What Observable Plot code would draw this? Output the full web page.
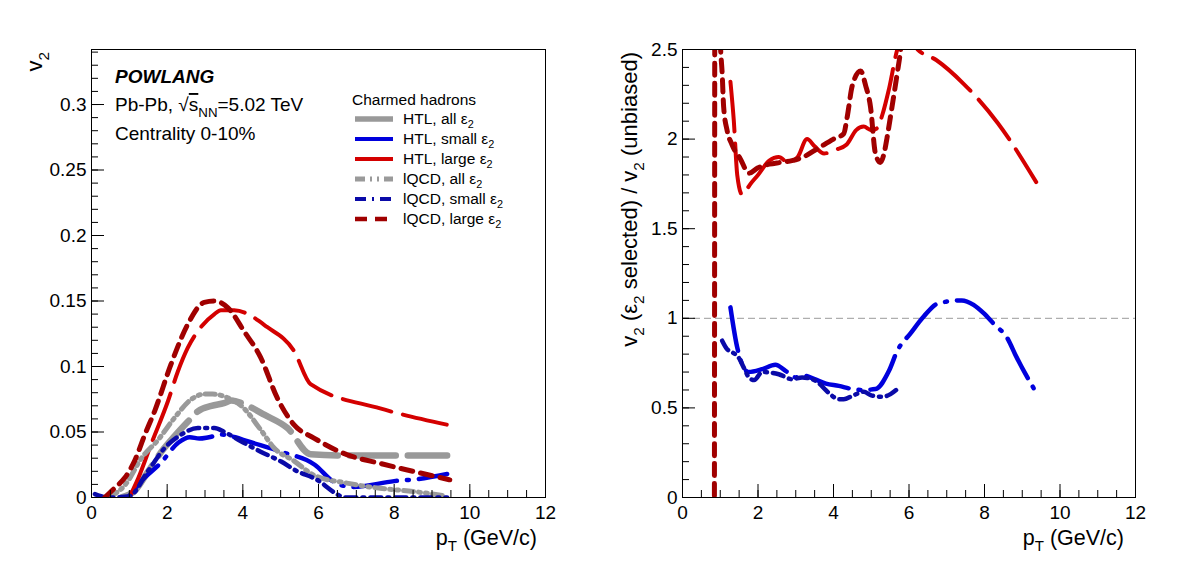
<!DOCTYPE html>
<html><head><meta charset="utf-8">
<script src="https://cdn.jsdelivr.net/npm/d3@7"></script>
<script src="https://cdn.jsdelivr.net/npm/@observablehq/plot@0.6"></script>
<style>
body{margin:0;background:#fff;}
#wrap{position:relative;width:1182px;height:571px;display:flex;}
#wrap svg{display:block;flex:none;}
</style></head><body><div id="wrap"></div>
<script>
const FONT = "'Liberation Sans', Arial, Helvetica, sans-serif";

// ---- axis ticks ----
const xMajor = [0, 2, 4, 6, 8, 10, 12];
const xMinor = d3.range(0, 12.01, 0.5);
const leftYMajor = [0, 0.05, 0.1, 0.15, 0.2, 0.25, 0.3];
const leftYMinor = d3.range(0, 0.3405, 0.01);
const rightYMajor = [0, 0.5, 1, 1.5, 2, 2.5];
const rightYMinor = d3.range(0, 2.501, 0.1);

// ---- left panel: v2 vs pT ----
const htlAll = [[0.79,0],[1.14,0.005],[1.5,0.02],[1.85,0.035],[2.2,0.047],[2.55,0.058],[2.82,0.066],[3.17,0.07],[3.5,0.072],[3.7,0.074],[4.05,0.071],[4.58,0.063],[5.18,0.053],[5.79,0.033],[6.75,0.032],[9.4,0.032]];
const htlSmall = [[0.97,0],[1.3,0.012],[1.85,0.027],[2.3,0.042],[2.6,0.046],[2.85,0.045],[3.1,0.046],[3.45,0.048],[3.8,0.046],[4.12,0.043],[5.0,0.035],[5.9,0.025],[6.4,0.012],[6.9,0.008],[8.0,0.0125],[8.6,0.014],[9.4,0.018]];
const htlLarge = [[1.0,0],[1.24,0.015],[1.58,0.041],[2.02,0.0735],[2.28,0.096],[2.54,0.114],[2.89,0.13],[3.25,0.14],[3.42,0.143],[3.77,0.143],[4.65,0.13],[5.35,0.112],[5.79,0.0865],[7.63,0.068],[9.39,0.0556]];
const iqcdAll = [[0.44,0],[0.9,0.01],[1.32,0.03],[1.76,0.044],[2.2,0.061],[2.64,0.075],[3.0,0.079],[3.2,0.079],[3.52,0.077],[3.96,0.07],[4.49,0.051],[4.82,0.038],[5.35,0.028],[5.88,0.017],[6.75,0.011],[7.63,0.007],[8.5,0.0046],[9.4,0.001]];
const iqcdSmall = [[0.09,0.0026],[0.44,0],[1.0,0.001],[1.49,0.02],[1.93,0.0377],[2.37,0.048],[2.81,0.053],[3.25,0.053],[3.51,0.05],[3.95,0.043],[4.47,0.035],[5.0,0.0276],[5.44,0.02],[5.88,0.0148],[6.75,0],[9.4,0]];
const iqcdLarge = [[0.35,0],[0.62,0.0075],[0.88,0.015],[1.14,0.028],[1.41,0.048],[1.67,0.066],[2.1,0.1016],[2.54,0.132],[2.98,0.149],[3.25,0.15],[3.6,0.145],[4.03,0.127],[4.47,0.107],[4.91,0.076],[5.35,0.0556],[5.88,0.0454],[6.75,0.0327],[7.63,0.026],[8.5,0.02],[9.47,0.0135]];

// ---- right panel: ratio v2(selected)/v2(unbiased) ----
const ratioHtlSmall = [[1.27,1.061],[1.45,0.837],[1.75,0.70],[2.11,0.716],[2.46,0.741],[2.73,0.707],[2.99,0.67],[3.21,0.68],[3.5,0.66],[3.8,0.635],[4.14,0.623],[4.5,0.605],[4.76,0.6],[5.11,0.605],[5.47,0.707],[5.69,0.819],[6.04,0.916],[6.39,1.01],[6.78,1.084],[7.4,1.1],[7.71,1.075],[7.97,1.03],[8.24,0.97],[8.63,0.88],[8.81,0.80],[9.3,0.61]];
const ratioIqcdSmall = [[1.05,0.875],[1.18,0.828],[1.32,0.81],[1.49,0.78],[1.62,0.726],[1.76,0.67],[1.9,0.655],[2.11,0.7],[2.55,0.688],[2.9,0.66],[3.17,0.67],[3.43,0.66],[3.6,0.64],[3.79,0.6],[3.92,0.575],[4.14,0.548],[4.27,0.548],[4.5,0.567],[4.8,0.59],[5.0,0.57],[5.29,0.562],[5.51,0.577],[5.69,0.605]];
const ratioHtlLarge = [[1.27,2.32],[1.36,2.1],[1.45,1.8],[1.58,1.69],[1.8,1.75],[2.0,1.8],[2.3,1.88],[2.55,1.9],[2.8,1.87],[3.05,1.9],[3.3,2.0],[3.5,1.96],[3.75,1.92],[4.05,1.94],[4.35,1.97],[4.6,2.05],[4.8,2.07],[5.0,2.05],[5.15,2.06],[5.3,2.14],[5.47,2.28],[5.69,2.5],[5.85,2.58],[6.0,2.56],[6.23,2.5],[6.73,2.44],[7.44,2.31],[8.35,2.09],[9.37,1.76]];
const ratioIqcdLarge = [[0.845,-0.1],[0.85,1.2],[0.855,2.6],[0.95,2.9],[1.01,2.5],[1.05,2.37],[1.09,2.18],[1.18,2.05],[1.31,1.97],[1.53,1.89],[1.76,1.81],[2.0,1.84],[2.3,1.86],[2.6,1.87],[2.9,1.88],[3.2,1.9],[3.6,1.95],[4.0,2.0],[4.27,2.03],[4.36,2.12],[4.5,2.3],[4.72,2.38],[4.85,2.3],[4.98,2.18],[5.11,1.92],[5.24,1.87],[5.35,1.93],[5.42,2.01],[5.55,2.18],[5.69,2.37],[5.78,2.5],[5.85,2.65]];
const unbiasedLevel = [1];

// ---- legend ----
const legendLabels = ["HTL, all ε", "HTL, small ε", "HTL, large ε", "lQCD, all ε", "lQCD, small ε", "lQCD, large ε"];

const styles = {
  htlAll:    {color: "#999999", width: 6.5, dash: "46,12",          lw: 5.5},
  htlSmall:  {color: "#0000dd", width: 4.5, dash: "44,10,2,10",     lw: 4},
  htlLarge:  {color: "#d40000", width: 4,   dash: "50,12",          lw: 4},
  iqcdAll:   {color: "#9a9a9a", width: 5,   dash: "10,5,2,5,2,5",   lw: 5},
  iqcdSmall: {color: "#0a0aa8", width: 4.5, dash: "11,6,2,6",       lw: 4},
  iqcdLarge: {color: "#a00000", width: 5,   dash: "12,8",           lw: 4.5}
};
const styleOrder = ["htlAll","htlSmall","htlLarge","iqcdAll","iqcdSmall","iqcdLarge"];

function line(data, s) {
  return Plot.line(data, {stroke: s.color, strokeWidth: s.width, strokeDasharray: s.dash,
    curve: "monotone-x", clip: true, strokeLinejoin: "round"});
}

function panel({yDomain, yMajor, yMinor, marks, marginLeft, marginRight}) {
  const W = 591, H = 571, mt = 49, mb = 74;
  const fw = W - marginLeft - marginRight, fh = H - mt - mb;
  return Plot.plot({
    width: W, height: H, marginLeft, marginRight, marginTop: mt, marginBottom: mb,
    style: {fontFamily: FONT, fontSize: "19px", background: "white", color: "black", overflow: "visible"},
    x: {domain: [0, 12]},
    y: {domain: yDomain},
    marks: [
      ...marks,
      Plot.ruleX(xMinor, {insetTop: fh - 7, stroke: "black"}),
      Plot.ruleX(xMajor, {insetTop: fh - 13, stroke: "black"}),
      Plot.ruleY(yMinor, {insetRight: fw - 7, stroke: "black"}),
      Plot.ruleY(yMajor, {insetRight: fw - 13, stroke: "black"}),
      Plot.axisX(xMajor, {tickSize: 0, tickPadding: 8, fontSize: 19, label: null, tickFormat: d => String(d)}),
      Plot.axisY(yMajor, {tickSize: 0, tickPadding: 5, fontSize: 19, label: null, tickFormat: d => String(+d.toFixed(2))}),
      Plot.frame({stroke: "black", strokeWidth: 1})
    ]
  });
}

function rich(g, x, y, segs, {size = 19, anchor = "start", rotate = 0, weight = null, italic = false} = {}) {
  const t = g.append("text").attr("x", x).attr("y", y)
    .attr("font-size", size).attr("text-anchor", anchor)
    .attr("font-family", FONT).attr("fill", "black");
  if (weight) t.attr("font-weight", weight);
  if (italic) t.attr("font-style", "italic");
  if (rotate) t.attr("transform", `rotate(${rotate},${x},${y})`);
  let shift = 0;
  for (const s of segs) {
    const target = s.sub ? size * 0.3 : 0;
    const ts = t.append("tspan").text(s.t).attr("dy", target - shift);
    if (s.sub) ts.attr("font-size", size * 0.7);
    if (s.over) ts.style("text-decoration", "overline");
    shift = target;
  }
  return t;
}

const wrap = d3.select("#wrap");

const left = panel({
  yDomain: [0, 0.342], yMajor: leftYMajor, yMinor: leftYMinor, marginLeft: 91, marginRight: 46,
  marks: [line(htlAll, styles.htlAll), line(htlSmall, styles.htlSmall), line(htlLarge, styles.htlLarge),
          line(iqcdAll, styles.iqcdAll), line(iqcdSmall, styles.iqcdSmall), line(iqcdLarge, styles.iqcdLarge)]
});
const right = panel({
  yDomain: [0, 2.5], yMajor: rightYMajor, yMinor: rightYMinor, marginLeft: 91, marginRight: 47,
  marks: [Plot.ruleY(unbiasedLevel, {stroke: "#9a9a9a", strokeWidth: 1, strokeDasharray: "7,4"}),
          line(ratioHtlSmall, styles.htlSmall), line(ratioHtlLarge, styles.htlLarge),
          line(ratioIqcdSmall, styles.iqcdSmall), line(ratioIqcdLarge, styles.iqcdLarge)]
});
wrap.node().appendChild(left);
wrap.node().appendChild(right);

// ---- left panel annotations ----
const gl = d3.select(left).append("g");
rich(gl, 42, 52, [{t: "v"}, {t: "2", sub: true}], {size: 22, anchor: "end", rotate: -90});
rich(gl, 537, 545, [{t: "p"}, {t: "T", sub: true}, {t: " (GeV/c)"}], {size: 21.5, anchor: "end"});
rich(gl, 115, 83, [{t: "POWLANG"}], {size: 19, weight: "bold", italic: true});
rich(gl, 115, 111, [{t: "Pb-Pb, √"}, {t: "s", over: true}, {t: "NN", sub: true}, {t: "=5.02 TeV"}], {size: 19});
rich(gl, 115, 140, [{t: "Centrality 0-10%"}], {size: 19});
rich(gl, 352, 105, [{t: "Charmed hadrons"}], {size: 15.5});
styleOrder.forEach((k, i) => {
  const s = styles[k];
  const yb = 123.5 + i * 20;
  gl.append("line").attr("x1", 355).attr("x2", 393).attr("y1", yb - 4.5).attr("y2", yb - 4.5)
    .attr("stroke", s.color).attr("stroke-width", s.lw).attr("stroke-dasharray", s.dash);
  rich(gl, 403, yb, [{t: legendLabels[i]}, {t: "2", sub: true}], {size: 15.5});
});

// ---- right panel annotations ----
const gr = d3.select(right).append("g");
rich(gr, 637 - 591, 52, [{t: "v"}, {t: "2", sub: true}, {t: " (ε"}, {t: "2", sub: true}, {t: " selected) / v"}, {t: "2", sub: true}, {t: " (unbiased)"}], {size: 22, anchor: "end", rotate: -90});
rich(gr, 1124 - 591, 545, [{t: "p"}, {t: "T", sub: true}, {t: " (GeV/c)"}], {size: 21.5, anchor: "end"});
</script>
</body></html>
